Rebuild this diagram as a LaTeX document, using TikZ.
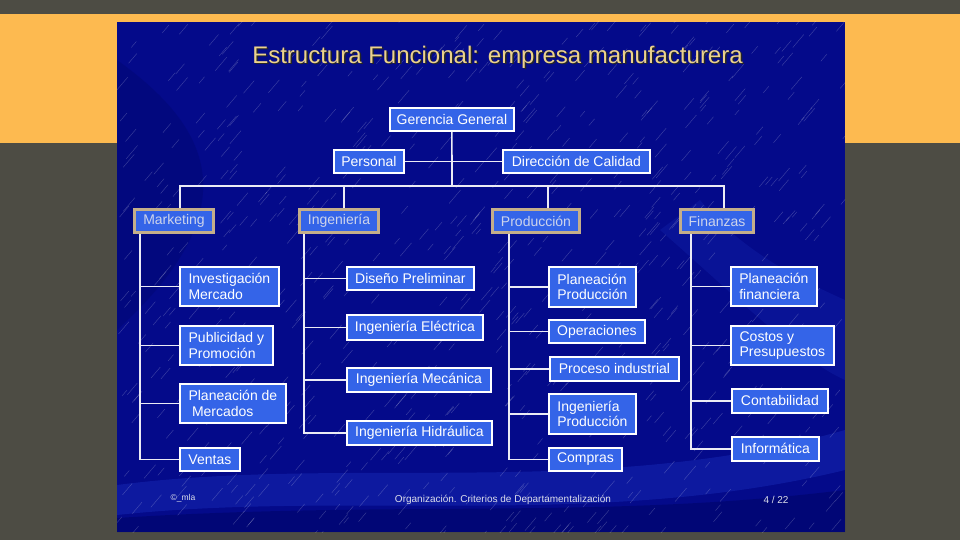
\documentclass[tikz,border=0pt]{standalone}
\usepackage{fontspec}
\setmainfont{Liberation Sans}
\definecolor{outergray}{RGB}{77,76,68}
\definecolor{bandorange}{RGB}{253,186,80}
\definecolor{slideblue}{RGB}{4,10,138}
\definecolor{swoosh}{RGB}{30,55,200}
\definecolor{darkswoosh}{RGB}{0,4,100}
\definecolor{boxblue}{RGB}{52,100,232}
\definecolor{deptborder}{RGB}{196,174,138}
\definecolor{depttext}{RGB}{205,212,235}
\definecolor{titlegold}{RGB}{236,210,140}
\definecolor{linewhite}{RGB}{235,235,245}
\definecolor{footgray}{RGB}{220,222,235}
\tikzset{
  box/.style={draw=white, line width=1.8pt, fill=boxblue, text=white,
    font=\fontsize{14}{15.5}\selectfont, align=left, inner sep=2pt, anchor=north west},
  dept/.style={box, draw=deptborder, line width=3pt, text=depttext},
  conn/.style={draw=linewhite, line width=1.6pt},
  foot/.style={text=footgray, font=\fontsize{10}{12}\selectfont, inner sep=0pt},
  rain/.style={white, opacity=0.22, line width=0.45pt},
}
\begin{document}
\begin{tikzpicture}[x=1pt,y=-1pt]
\useasboundingbox (0,0) rectangle (960,540);
% backgrounds
\fill[outergray] (0,0) rectangle (960,540);
\fill[bandorange] (0,14) rectangle (960,143);
\fill[slideblue] (117,22) rectangle (845,532);
\begin{scope}
  \clip (117,22) rectangle (845,532);
  \fill[darkswoosh, opacity=0.3] (117,60) .. controls (200,120) and (260,200) .. (117,330) -- cycle;
  \fill[swoosh, opacity=0.35] (117,485) .. controls (350,455) and (600,500) .. (845,430) -- (845,470) .. controls (600,530) and (350,490) .. (117,515) -- cycle;
  \fill[swoosh, opacity=0.2] (660,230) .. controls (740,300) and (800,360) .. (845,380) -- (845,300) .. controls (800,280) and (740,250) .. (700,200) -- cycle;
  \fill[darkswoosh, opacity=0.5] (117,518) .. controls (400,500) and (600,520) .. (845,490) -- (845,532) -- (117,532) -- cycle;
  \pgfmathsetseed{7}
  \foreach \i in {1,...,750}{
    \pgfmathsetmacro\px{117+740*rnd}
    \pgfmathsetmacro\py{22+520*rnd}
    \pgfmathsetmacro\ln{5+9*rnd}
    \draw[rain] (\px,\py) -- ++(0.85*\ln,-\ln);
  }
\end{scope}
% title
\node[font=\fontsize{24}{28}\selectfont, text=black!85, inner sep=0pt] (titlesh) at (499,58.5) {Estructura Funcional: empresa manufacturera};
\node[font=\fontsize{24}{28}\selectfont, text=titlegold, inner sep=0pt] (title) at (497.5,57) {Estructura Funcional: empresa manufacturera};
% top nodes
\node[box, minimum width=124pt, minimum height=23pt] (gg) at (389,107) {Gerencia General};
\node[box, minimum width=70pt, minimum height=23pt] (pers) at (333,149) {Personal};
\node[box, minimum width=147pt, minimum height=23pt] (dc) at (502,149) {Dirección de Calidad};
% departments
\node[dept, minimum width=79pt, minimum height=23pt] (mk) at (133,208) {Marketing};
\node[dept, minimum width=79pt, minimum height=23pt] (ing) at (298,208) {Ingeniería};
\node[dept, minimum width=87pt, minimum height=23pt] (prod) at (491,208) {Producción};
\node[dept, minimum width=73pt, minimum height=23pt] (fin) at (679,208) {Finanzas};
% marketing
\node[box, minimum width=99pt, minimum height=39pt] (im) at (179,266) {Investigación\\Mercado};
\node[box, minimum width=93pt, minimum height=39pt] (pp) at (179,325) {Publicidad y\\Promoción};
\node[box, minimum width=106pt, minimum height=39pt] (pm) at (179,383) {Planeación de\\\hspace*{3.5pt}Mercados};
\node[box, minimum width=60pt, minimum height=23pt] (ve) at (179,447) {Ventas};
% ingenieria
\node[box, minimum width=127pt, minimum height=23pt] (dp) at (346,266) {Diseño Preliminar};
\node[box, minimum width=136pt, minimum height=25pt] (ie) at (346,314) {Ingeniería Eléctrica};
\node[box, minimum width=144pt, minimum height=24pt] (imec) at (346,367) {Ingeniería Mecánica};
\node[box, minimum width=145pt, minimum height=24pt] (ih) at (346,420) {Ingeniería Hidráulica};
% produccion
\node[box, minimum width=87pt, minimum height=40pt] (ppr) at (548,266) {Planeación\\Producción};
\node[box, minimum width=96pt, minimum height=23pt] (op) at (548,319) {Operaciones};
\node[box, minimum width=129pt, minimum height=24pt] (pi) at (549,356) {Proceso industrial};
\node[box, minimum width=87pt, minimum height=40pt] (ipr) at (548,393) {Ingeniería\\Producción};
\node[box, minimum width=73pt, minimum height=23pt] (co) at (548,447) {Compras};
% finanzas
\node[box, minimum width=86pt, minimum height=39pt] (pf) at (730,266) {Planeación\\financiera};
\node[box, minimum width=103pt, minimum height=39pt] (cp) at (730,325) {Costos y\\Presupuestos};
\node[box, minimum width=96pt, minimum height=24pt] (ct) at (731,388) {Contabilidad};
\node[box, minimum width=87pt, minimum height=24pt] (inf) at (731,436) {Informática};
% connectors
\coordinate (bus) at (452,186);
\draw[conn] (gg.south) -- (bus);
\draw[conn] (pers.east) -- (dc.west);
\draw[conn] ([xshift=47pt]mk.north west) |- (bus);
\draw[conn] ([xshift=46pt]ing.north west) |- (bus);
\draw[conn] ([xshift=57pt]prod.north west) |- (bus);
\draw[conn] ([xshift=45pt]fin.north west) |- (bus);
\coordinate (colM) at ([xshift=7pt]mk.south west);
\coordinate (colI) at ([xshift=6pt]ing.south west);
\coordinate (colP) at ([xshift=18pt]prod.south west);
\coordinate (colF) at ([xshift=12pt]fin.south west);
\draw[conn] (colM) |- (ve.west);
\foreach \n in {im,pp,pm} \draw[conn] (\n.west) -- (\n.west -| colM);
\draw[conn] (colI) |- (ih.west);
\foreach \n in {dp,ie,imec} \draw[conn] (\n.west) -- (\n.west -| colI);
\draw[conn] (colP) |- (co.west);
\foreach \n in {ppr,op,pi,ipr} \draw[conn] (\n.west) -- (\n.west -| colP);
\draw[conn] (colF) |- (inf.west);
\foreach \n in {pf,cp,ct} \draw[conn] (\n.west) -- (\n.west -| colF);
% footer
\node[foot, font=\fontsize{8.5}{10}\selectfont] (cr) at (183,498) {©\_mla};
\node[foot] (ft) at (503,500) {Organización. Criterios de Departamentalización};
\node[foot] (pg) at (776,500) {4 / 22};
\end{tikzpicture}
\end{document}
